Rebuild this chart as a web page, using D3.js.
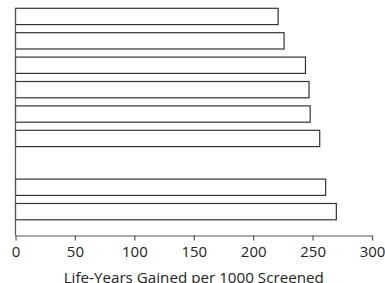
<!DOCTYPE html>
<html>
<head>
<meta charset="utf-8">
<script src="https://cdn.jsdelivr.net/npm/d3@7"></script>
<style>
  body { margin: 0; background: #fff; }
  svg text { font-family: "Open Sans", sans-serif; fill: #222; }
</style>
</head>
<body>
<svg width="385" height="283"></svg>
<script>
// data (top to bottom), "gap" is the empty slot
const categories = ["a1", "a2", "a3", "a4", "a5", "a6", "gap", "b1", "b2"]
const values = [221, 226, 244, 247, 248, 256, null, 261, 270]
const xTicks = [0, 50, 100, 150, 200, 250, 300]
const xTitle = "Life-Years Gained per 1000 Screened"

const svg = d3.select("svg")
const W = 385, H = 283
const m = {left: 15.5, right: 13, top: 8.3, axis: 235.5}

const x = d3.scaleLinear().domain([0, 300]).range([m.left, W - m.right])
const y = d3.scaleBand().domain(categories).range([m.top, 219.8])
  .paddingInner(0.332).paddingOuter(0)

const rows = categories.map((c, i) => ({c, v: values[i]})).filter(d => d.v != null)

//bars
svg.append("g").selectAll("rect").data(rows).enter().append("rect")
  .attr("x", x(0))
  .attr("y", d => y(d.c))
  .attr("width", d => x(d.v) - x(0))
  .attr("height", y.bandwidth())
  .attr("fill", "#fff")
  .attr("stroke", "#333")
  .attr("stroke-width", 1.2)

//left axis line
svg.append("line")
  .attr("x1", x(0)).attr("x2", x(0))
  .attr("y1", m.top).attr("y2", m.axis)
  .attr("stroke", "#555").attr("stroke-width", 1.2)

//bottom axis
const gx = svg.append("g").attr("transform", `translate(0,${m.axis})`)
  .call(d3.axisBottom(x).tickValues(xTicks).tickSize(5).tickPadding(6).tickSizeOuter(0))
gx.select(".domain").attr("stroke", "#555").attr("stroke-width", 1.2)
gx.selectAll(".tick line").attr("stroke", "#555").attr("stroke-width", 1.2)
gx.selectAll(".tick text").attr("font-size", 15).attr("fill", "#222")
  .style("font-family", "'Open Sans', sans-serif")

svg.append("text")
  .attr("x", x(150)).attr("y", 282.5)
  .attr("text-anchor", "middle")
  .attr("font-size", 15.2)
  .text(xTitle)
</script>
</body>
</html>
